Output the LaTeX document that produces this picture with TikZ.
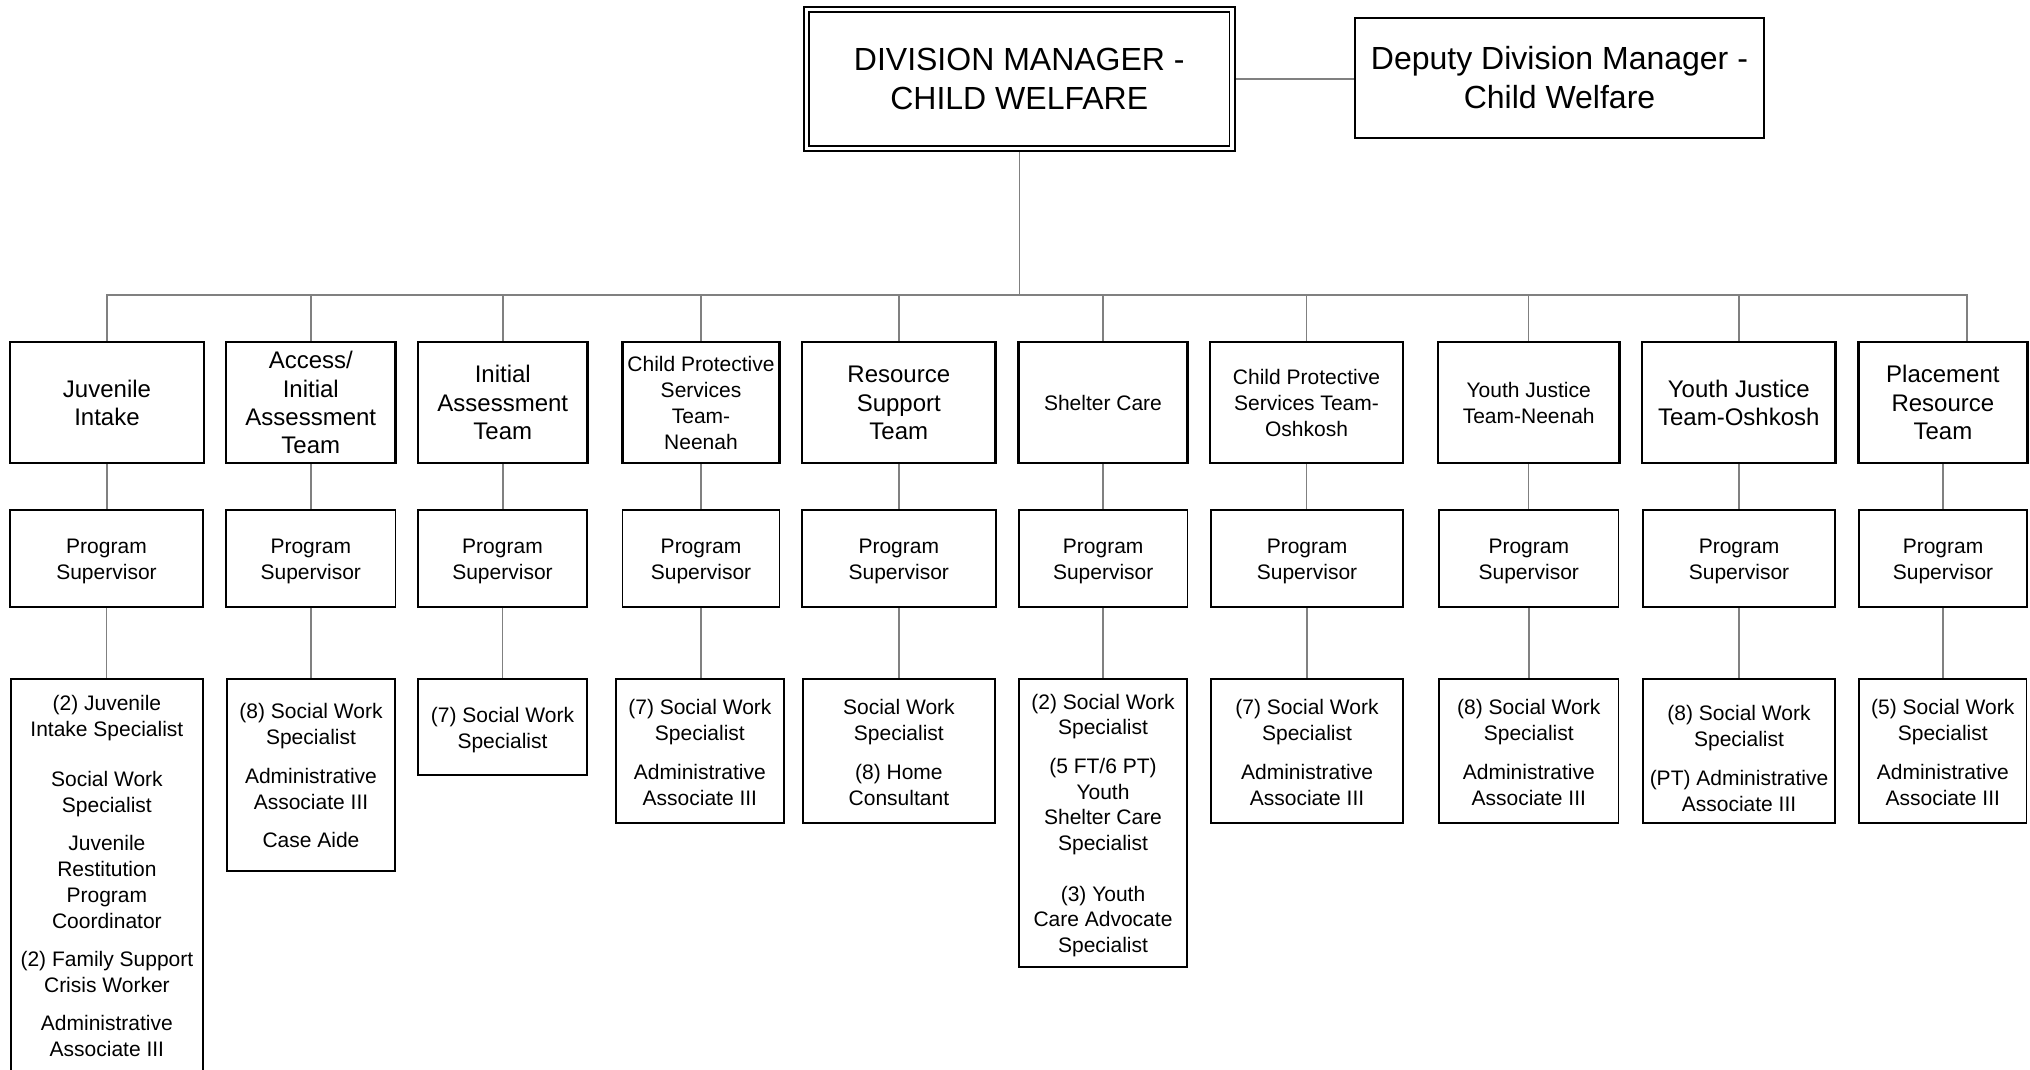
\documentclass[tikz,border=0pt]{standalone}
\usepackage{fontspec}
\setmainfont{Liberation Sans}
\usetikzlibrary{backgrounds}
\definecolor{linkgray}{HTML}{808080}
% centred stack of lines, each exactly one baselineskip tall;
% the extra head room sets the lines a little below the box centre
\newcommand\cellrows[1]{\raisebox{0pt}[\dimexpr\height+6pt\relax]{\begin{tabular}{@{}c@{}}#1\end{tabular}}}
% plain stack for the staff lists, placed by their top edge
\newcommand\listrows[1]{\begin{tabular}{@{}c@{}}#1\end{tabular}}

\begin{document}
\begin{tikzpicture}[x=1pt,y=-1pt,
  every node/.style={inner sep=0pt, outer sep=0pt},
  bigtext/.style={font=\fontsize{32}{39}\selectfont},
  teamtext/.style={font=\fontsize{24}{28.3}\selectfont},
  smalltext/.style={font=\fontsize{21}{26}\selectfont},
  headbox/.style={draw, rectangle, line width=1.8pt, bigtext},
  teambox/.style={draw, rectangle, line width=2.6pt, minimum height=121pt, teamtext},
  supbox/.style={draw, rectangle, line width=1.8pt, minimum height=97pt, smalltext},
  staffbox/.style={draw, rectangle, line width=1.8pt},
  stafftext/.style={anchor=north, smalltext},
  link/.style={draw=linkgray, line width=1.5pt}
]
\clip (0,0) rectangle (2030,1069);

% ---- top level ----
\node[headbox, double, double distance=3.4pt, minimum width=425.5pt, minimum height=138.5pt]
  (main) at (1019.25,79) {\cellrows{DIVISION MANAGER -\\CHILD WELFARE}};
\node[headbox, minimum width=409pt, minimum height=120pt]
  (dep) at (1559.5,78) {\cellrows{Deputy Division Manager -\\Child Welfare}};

% ---- teams ----
\node[teambox, minimum width=194pt]   (t1)  at (107,402.5)    {\cellrows{Juvenile\\Intake}};
\node[teambox, minimum width=169.5pt] (t2)  at (310.8,402.5)  {\cellrows{Access/\\Initial\\Assessment\\Team}};
\node[teambox, minimum width=169.5pt] (t3)  at (502.8,402.5)  {\cellrows{Initial\\Assessment\\Team}};
\node[teambox, minimum width=157pt, smalltext] (t4) at (701,402.5) {\cellrows{Child Protective\\Services\\Team-\\Neenah}};
\node[teambox, minimum width=193.6pt] (t5)  at (898.8,402.5)  {\cellrows{Resource\\Support\\Team}};
\node[teambox, minimum width=169pt, smalltext] (t6) at (1103,402.5) {\cellrows{Shelter Care}};
\node[teambox, minimum width=193pt, smalltext] (t7) at (1306.5,402.5) {\cellrows{Child Protective\\Services Team-\\Oshkosh}};
\node[teambox, minimum width=181.4pt, smalltext] (t8) at (1528.7,402.5) {\cellrows{Youth Justice\\Team-Neenah}};
\node[teambox, minimum width=193.5pt] (t9)  at (1738.8,402.5) {\cellrows{Youth Justice\\Team-Oshkosh}};
\node[teambox, minimum width=169pt]   (t10) at (1942.9,402.5) {\cellrows{Placement\\Resource\\Team}};

% ---- program supervisors ----
\node[supbox, minimum width=193pt]   (p1)  at (106.5,558.5)  {\cellrows{Program\\Supervisor}};
\node[supbox, minimum width=169.5pt] (p2)  at (310.8,558.5)  {\cellrows{Program\\Supervisor}};
\node[supbox, minimum width=169pt]   (p3)  at (502.5,558.5)  {\cellrows{Program\\Supervisor}};
\node[supbox, minimum width=157pt]   (p4)  at (701,558.5)    {\cellrows{Program\\Supervisor}};
\node[supbox, minimum width=193.6pt] (p5)  at (898.8,558.5)  {\cellrows{Program\\Supervisor}};
\node[supbox, minimum width=168.4pt] (p6)  at (1103.2,558.5) {\cellrows{Program\\Supervisor}};
\node[supbox, minimum width=192pt]   (p7)  at (1307,558.5)   {\cellrows{Program\\Supervisor}};
\node[supbox, minimum width=179.5pt] (p8)  at (1528.8,558.5) {\cellrows{Program\\Supervisor}};
\node[supbox, minimum width=192pt]   (p9)  at (1739,558.5)   {\cellrows{Program\\Supervisor}};
\node[supbox, minimum width=168pt]   (p10) at (1943,558.5)   {\cellrows{Program\\Supervisor}};

% ---- staff boxes ----
\node[staffbox, minimum width=192.3pt, minimum height=416pt]   (b1)  at (106.9,887)   {};
\node[staffbox, minimum width=168pt,   minimum height=191.7pt] (b2)  at (311,774.9)   {};
\node[staffbox, minimum width=169pt,   minimum height=96pt, smalltext] (b3) at (502.5,727)
  {\cellrows{(7) Social Work\\Specialist}};
\node[staffbox, minimum width=168.2pt, minimum height=143.7pt] (b4)  at (699.9,750.9) {};
\node[staffbox, minimum width=192.2pt, minimum height=143.7pt] (b5)  at (898.9,750.9) {};
\node[staffbox, minimum width=168pt,   minimum height=287.7pt] (b6)  at (1103,822.9)  {};
\node[staffbox, minimum width=192pt,   minimum height=143.7pt] (b7)  at (1307,750.9)  {};
\node[staffbox, minimum width=179.5pt, minimum height=143.7pt] (b8)  at (1528.8,750.9) {};
\node[staffbox, minimum width=192pt,   minimum height=143.7pt] (b9)  at (1739,750.9)  {};
\node[staffbox, minimum width=167.5pt, minimum height=143.7pt] (b10) at (1942.8,750.9) {};

% ---- staff lists ----
\node[stafftext] (s1) at (106.9,691.8) {\listrows{(2) Juvenile\\Intake Specialist\\[24pt]Social Work\\Specialist\\[12pt]Juvenile\\Restitution\\Program\\Coordinator\\[12pt](2) Family Support\\Crisis Worker\\[12pt]Administrative\\Associate III}};
\node[stafftext] (s2) at (311,700.1) {\listrows{(8) Social Work\\Specialist\\[13pt]Administrative\\Associate III\\[12pt]Case Aide}};
\node[stafftext] (s4) at (699.9,695.8) {\listrows{(7) Social Work\\Specialist\\[13pt]Administrative\\Associate III}};
\node[stafftext] (s5) at (898.9,695.8) {\listrows{Social Work\\Specialist\\[13pt](8) Home\\Consultant}};
\node[stafftext, font=\fontsize{21}{25.7}\selectfont] (s6) at (1103,691) {\listrows{(2) Social Work\\Specialist\\[13pt](5 FT/6 PT)\\Youth\\Shelter Care\\Specialist\\[25pt](3) Youth\\Care Advocate\\Specialist}};
\node[stafftext] (s7) at (1307,695.8) {\listrows{(7) Social Work\\Specialist\\[13pt]Administrative\\Associate III}};
\node[stafftext] (s8) at (1528.8,695.8) {\listrows{(8) Social Work\\Specialist\\[13pt]Administrative\\Associate III}};
\node[stafftext] (s9) at (1739,701.8) {\listrows{(8) Social Work\\Specialist\\[13pt](PT) Administrative\\Associate III}};
\node[stafftext] (s10) at (1942.8,695.8) {\listrows{(5) Social Work\\Specialist\\[13pt]Administrative\\Associate III}};

% ---- connectors ----
\coordinate (busL) at (107,295);
\coordinate (busR) at (1967,295);
\begin{scope}[on background layer]
  \draw[link] (main.east) -- (main.east -| dep.west);
  \draw[link] (main.south) -- (main.south |- busL);
  \draw[link] (t1.north) -- (t1.north |- busL) -- (busR) -- (busR |- t10.north);
  \foreach \k in {2,...,9} {
    \draw[link] (t\k.north) -- (t\k.north |- busL);
  }
  \foreach \k in {1,...,10} {
    \draw[link] (t\k.south) -- (t\k.south |- p\k.north);
    \draw[link] (p\k.south) -- (p\k.south |- b\k.north);
  }
\end{scope}
\end{tikzpicture}
\end{document}
